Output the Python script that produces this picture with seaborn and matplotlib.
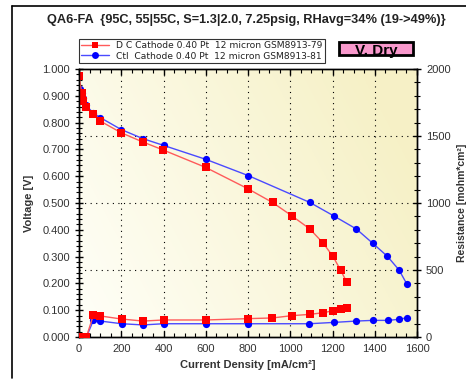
import numpy as np
import pandas as pd
import matplotlib
matplotlib.use("Agg")
import matplotlib.pyplot as plt
import seaborn as sns
from matplotlib.ticker import MultipleLocator, FormatStrFormatter
from matplotlib.patches import Rectangle
from matplotlib.lines import Line2D

sns.set_theme(style="white")
plt.rcParams['font.family'] = ['Liberation Sans', 'DejaVu Sans']

# ---------------- data ----------------
title = "QA6-FA  {95C, 55|55C, S=1.3|2.0, 7.25psig, RHavg=34% (19->49%)}"
label_dc = "D C Cathode 0.40 Pt  12 micron GSM8913-79"
label_ctl = "Ctl  Cathode 0.40 Pt  12 micron GSM8913-81"
badge = "V. Dry"

dc_i = [0, 13, 20, 32, 68, 100, 200, 301, 398, 599, 800, 916, 1006, 1093, 1155, 1202, 1238, 1268]
dc_v = [0.975, 0.909, 0.882, 0.860, 0.831, 0.806, 0.762, 0.728, 0.698, 0.633, 0.553, 0.502,
        0.453, 0.403, 0.351, 0.301, 0.250, 0.204]

ctl_i = [5, 13, 20, 32, 68, 100, 200, 303, 400, 600, 802, 1093, 1208, 1313, 1390, 1460, 1515, 1551]
ctl_v = [0.925, 0.910, 0.890, 0.865, 0.836, 0.819, 0.774, 0.740, 0.715, 0.663, 0.602, 0.502,
         0.451, 0.403, 0.350, 0.301, 0.250, 0.199]

dc_hfr_i = [0, 35, 68, 101, 202, 303, 400, 599, 800, 915, 1006, 1093, 1155, 1203, 1241, 1268]
dc_hfr_r = [0, 0, 164, 157, 134, 119, 127, 127, 137, 142, 159, 169, 181, 196, 209, 219]

ctl_hfr_i = [0, 35, 68, 101, 202, 303, 400, 599, 800, 1091, 1208, 1313, 1390, 1462, 1515, 1553]
ctl_hfr_r = [0, 0, 124, 119, 99, 90, 99, 99, 99, 99, 109, 119, 124, 124, 132, 144]

x_ticks = [0, 200, 400, 600, 800, 1000, 1200, 1400, 1600]

# ---------------- figure ----------------
W, H = 466, 382
fig = plt.figure(figsize=(W / 100, H / 100), dpi=100)
fig.patch.set_facecolor("white")

L, R, T, B = 79, 417, 69, 337
ax = fig.add_axes([L / W, 1 - B / H, (R - L) / W, (B - T) / H])
ax2 = ax.twinx()

# background gradient (white top-left -> pale yellow bottom-right)
gx, gy = np.meshgrid(np.linspace(0, 1, 200), np.linspace(0, 1, 200))
t = np.clip((gx * 1.2 + (1 - gy) * 0.5) / 1.5, 0, 1)
c0 = np.array([1.0, 1.0, 0.975])
c1 = np.array([0.965, 0.945, 0.78])
img = c0[None, None, :] * (1 - t[..., None]) + c1[None, None, :] * t[..., None]
ax.imshow(img, extent=[0, 1, 0, 1], transform=ax.transAxes, aspect="auto", zorder=0, origin="upper")

red_line = "#ff5a5a"
blue_line = "#4a4aff"

df_dc = pd.DataFrame({"i": dc_i, "v": dc_v})
df_ctl = pd.DataFrame({"i": ctl_i, "v": ctl_v})
df_dch = pd.DataFrame({"i": dc_hfr_i, "r": dc_hfr_r})
df_ctlh = pd.DataFrame({"i": ctl_hfr_i, "r": ctl_hfr_r})

kw = dict(linewidth=1.0, markeredgewidth=0, estimator=None, sort=False, legend=False)
sns.lineplot(data=df_ctl, x="i", y="v", ax=ax, color=blue_line, marker="o", markersize=5.2, markerfacecolor="#0000ff", zorder=3, **kw)
sns.lineplot(data=df_dc, x="i", y="v", ax=ax, color=red_line, marker="s", markersize=5.2, markerfacecolor="#ff0000", zorder=4, **kw)
sns.lineplot(data=df_ctlh, x="i", y="r", ax=ax2, color=blue_line, marker="o", markersize=5.2, markerfacecolor="#0000ff", zorder=3, **kw)
sns.lineplot(data=df_dch, x="i", y="r", ax=ax2, color=red_line, marker="s", markersize=5.2, markerfacecolor="#ff0000", zorder=4, **kw)

ax.set_xlim(0, 1600)
ax.set_ylim(0, 1.0)
ax2.set_ylim(0, 2000)

# grid (dotted)
for xv in x_ticks[1:-1]:
    ax.axvline(xv, color="black", linestyle=(0, (1, 4)), linewidth=0.8, zorder=1)
for yv in [0.25, 0.5, 0.75]:
    ax.axhline(yv, color="black", linestyle=(0, (1, 4)), linewidth=0.8, zorder=1)

ax.set_xticks(x_ticks)
ax.xaxis.set_minor_locator(MultipleLocator(50))
ax.yaxis.set_major_locator(MultipleLocator(0.1))
ax.yaxis.set_minor_locator(MultipleLocator(0.02))
ax.yaxis.set_major_formatter(FormatStrFormatter("%.3f"))
ax2.yaxis.set_major_locator(MultipleLocator(500))
ax2.yaxis.set_minor_locator(MultipleLocator(100))

tc = "#333333"
ax.tick_params(axis="both", which="major", direction="inout", length=6, width=1, labelsize=8, colors="black", labelcolor=tc, top=True)
ax.tick_params(axis="both", which="minor", direction="inout", length=4, width=0.8, colors="black", top=True)
ax.tick_params(axis="x", which="both", direction="in", top=True, bottom=True)
ax.tick_params(axis="x", which="major", length=4, pad=5)
ax.tick_params(axis="x", which="minor", length=3)
ax2.tick_params(axis="y", which="major", direction="inout", length=6, width=1, labelsize=8, labelcolor=tc, colors="black")
ax2.tick_params(axis="y", which="minor", direction="inout", length=4, width=0.8, colors="black")

for a in (ax, ax2):
    for s in a.spines.values():
        s.set_visible(True)
        s.set_color("black")
        s.set_linewidth(1.0)
ax2.patch.set_visible(False)

ax.set_xlabel("Current Density [mA/cm²]", fontsize=8, fontweight="bold", color=tc, labelpad=4)
ax.set_ylabel("Voltage [V]", fontsize=8, fontweight="bold", color=tc, labelpad=6)
ax2.set_ylabel("Resistance [mohm*cm²]", fontsize=7.5, fontweight="bold", color=tc)
ax2.yaxis.set_label_coords(1.119, 0.5)

# title
fig.text(246 / W, 1 - 20 / H, title, ha="center", va="center", fontsize=9.2, fontweight="bold", color="#222222")

# legend
handles = [
    Line2D([], [], color=red_line, marker="s", markerfacecolor="#ff0000", markeredgewidth=0, markersize=5, linewidth=1),
    Line2D([], [], color=blue_line, marker="o", markerfacecolor="#0000ff", markeredgewidth=0, markersize=5, linewidth=1),
]
leg = fig.legend(handles, [label_dc, label_ctl], loc="upper left",
                 bbox_to_anchor=(79 / W, 1 - 39 / H), frameon=True,
                 prop={"family": "DejaVu Sans", "size": 6.6},
                 fancybox=False, edgecolor="black", handlelength=3.0, handletextpad=0.8,
                 borderpad=0.25, labelspacing=0.15, borderaxespad=0)
leg.get_frame().set_linewidth(0.8)
for txt in leg.get_texts():
    txt.set_color("#222222")

# badge
fig.patches.append(Rectangle((339 / W, 1 - 55 / H), 74 / W, 13 / H, transform=fig.transFigure,
                             facecolor="#f898cc", edgecolor="black", linewidth=2))
fig.text(376 / W, 1 - 51 / H, badge, ha="center", va="center", fontsize=11, fontweight="bold", color="black")

# outer frame lines
fig.add_artist(Line2D([12 / W, 12 / W], [1 - 378 / H, 1 - 6 / H], transform=fig.transFigure, color="black", linewidth=1.2))
fig.add_artist(Line2D([12 / W, 1], [1 - 6 / H, 1 - 6 / H], transform=fig.transFigure, color="black", linewidth=1.2))

fig.savefig("out.png", dpi=100)
